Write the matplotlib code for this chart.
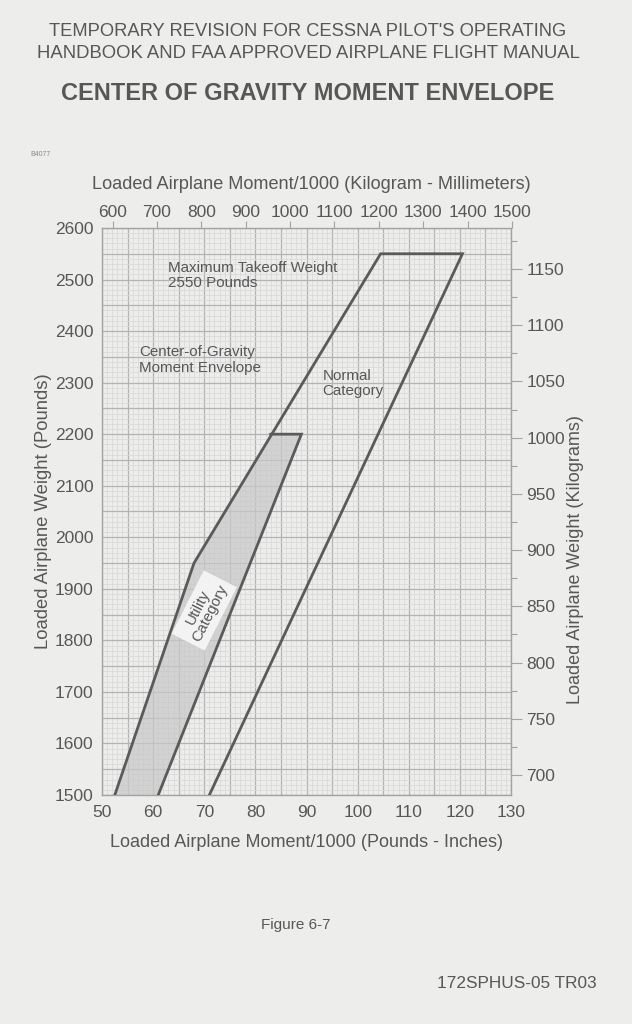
import matplotlib
matplotlib.use("Agg")
import matplotlib.pyplot as plt
from matplotlib.ticker import FixedLocator, NullLocator
import numpy as np

plt.rcParams['font.family'] = ['Liberation Sans', 'DejaVu Sans']

# ---------------- data ----------------
# Normal category envelope (moment/1000 lb-in, weight lb)
normal_moment = [52.5, 68.0, 104.5, 120.5, 71.0]
normal_weight = [1500, 1950, 2550, 2550, 1500]
# Utility category envelope
utility_moment = [52.5, 68.0, 83.0, 89.0, 61.0]
utility_weight = [1500, 1950, 2200, 2200, 1500]

x_ticks = [50, 60, 70, 80, 90, 100, 110, 120, 130]
y_ticks = [1500, 1600, 1700, 1800, 1900, 2000, 2100, 2200, 2300, 2400, 2500, 2600]
kg_ticks = [700, 750, 800, 850, 900, 950, 1000, 1050, 1100, 1150]
kgmm_ticks = [600, 700, 800, 900, 1000, 1100, 1200, 1300, 1400, 1500]

KGMM_PER_LBIN = 0.45359237 * 25.4

# ---------------- style ----------------
paper = '#ededec'
txt = '#575757'
line_c = '#5a5a5a'
spine_c = '#a3a3a3'

W, H = 632, 1024
L, R, B, T = 102, 511, 795, 228

fig = plt.figure(figsize=(W/100, H/100), dpi=100, facecolor=paper)
rect = [L/W, 1 - B/H, (R-L)/W, (B-T)/H]
ax = fig.add_axes(rect)
ax.set_facecolor(paper)

ax.set_xlim(50, 130)
ax.set_ylim(1500, 2600)

# grid
ax.xaxis.set_major_locator(FixedLocator(x_ticks))
ax.yaxis.set_major_locator(FixedLocator(y_ticks))
for v in np.arange(50, 131, 1):
    major = (v % 5 == 0)
    ax.axvline(v, color='#b3b3b3' if major else '#d9d9d9', lw=0.9 if major else 0.55, zorder=0.5)
for v in np.arange(1500, 2601, 10):
    major = (v % 50 == 0)
    ax.axhline(v, color='#b3b3b3' if major else '#d9d9d9', lw=0.9 if major else 0.55, zorder=0.5)

for s in ax.spines.values():
    s.set_color(spine_c)
    s.set_linewidth(1.0)

ax.tick_params(axis='both', which='both', length=0, colors=txt, labelsize=12.5)
ax.tick_params(axis='x', pad=7.5)
ax.tick_params(axis='y', pad=6)

# utility fill
ax.fill(utility_moment, utility_weight, color='#c8c8c8', alpha=0.72, lw=0, zorder=1)
# outlines
ax.plot(normal_moment, normal_weight, color=line_c, lw=2.0, zorder=3, solid_joinstyle='miter')
ax.plot(utility_moment[2:], utility_weight[2:], color=line_c, lw=2.0, zorder=3, solid_joinstyle='miter')

# labels inside
ax.text(62.9, 2507, 'Maximum Takeoff Weight\n2550 Pounds', fontsize=10.9, color=txt,
        ha='left', va='center', linespacing=1.1, zorder=4)
ax.text(57.3, 2344, 'Center-of-Gravity\nMoment Envelope', fontsize=10.9, color=txt,
        ha='left', va='center', linespacing=1.1, zorder=4)
ax.text(93.1, 2299, 'Normal\nCategory', fontsize=10.9, color=txt,
        ha='left', va='center', linespacing=1.1, zorder=4)
ax.text(70.0, 1858, 'Utility\nCategory', fontsize=11, color=txt, rotation=63,
        ha='center', va='center', linespacing=1.0, zorder=4, rotation_mode='anchor',
        bbox=dict(boxstyle='square,pad=0.3', fc='#f3f3f3', ec='none'))

ax.set_xlabel('Loaded Airplane Moment/1000 (Pounds - Inches)', fontsize=13, color=txt, labelpad=10)
ax.set_ylabel('Loaded Airplane Weight (Pounds)', fontsize=13.3, color=txt, labelpad=2)

# right kilogram scale (separate axes on same rectangle)
axr = fig.add_axes(rect, frameon=False)
axr.patch.set_visible(False)
axr.set_xlim(0, 1)
axr.set_ylim(682.2, 1186.5)
axr.xaxis.set_major_locator(NullLocator())
axr.yaxis.tick_right()
axr.yaxis.set_major_locator(FixedLocator(kg_ticks))
axr.yaxis.set_minor_locator(FixedLocator(np.arange(700, 1186, 25)))
axr.tick_params(axis='y', which='major', length=8, width=0.8, color=spine_c, labelcolor=txt,
                labelsize=12.5, pad=3)
axr.tick_params(axis='y', which='minor', length=4, width=0.8, color=spine_c)

# top kg-mm scale (separate axes slightly wider so 1500 fits)
extra = 10
axt = fig.add_axes([L/W, 1 - B/H, (R-L+extra)/W, (B-T)/H], frameon=False)
axt.patch.set_visible(False)
axt.set_xlim(50 * KGMM_PER_LBIN, (50 + (R - L + extra) / ((R - L) / 80)) * KGMM_PER_LBIN)
axt.set_ylim(0, 1)
axt.yaxis.set_major_locator(NullLocator())
axt.xaxis.tick_top()
axt.xaxis.set_label_position('top')
axt.xaxis.set_major_locator(FixedLocator(kgmm_ticks))
axt.tick_params(axis='x', length=5, width=0.8, color=spine_c, labelcolor=txt, labelsize=12.5,
                pad=0.5, direction='out')
axt.set_xlabel('Loaded Airplane Moment/1000 (Kilogram - Millimeters)', fontsize=13.1, color=txt, labelpad=12)

fig.text(575/W, 1 - 560/H, 'Loaded Airplane Weight (Kilograms)', rotation=90, ha='center', va='center',
         fontsize=13, color=txt)

# header / footer texts
fig.text(308/W, 1 - 32/H, "TEMPORARY REVISION FOR CESSNA PILOT'S OPERATING", ha='center', va='center',
         fontsize=13.2, color=txt)
fig.text(308/W, 1 - 53/H, "HANDBOOK AND FAA APPROVED AIRPLANE FLIGHT MANUAL", ha='center', va='center',
         fontsize=13.3, color=txt)
fig.text(308/W, 1 - 94/H, "CENTER OF GRAVITY MOMENT ENVELOPE", ha='center', va='center',
         fontsize=17, color=txt, fontweight='bold')
fig.text(30/W, 1 - 155/H, "B4077", ha='left', va='center', fontsize=5, color='#8a8a8a')
fig.text(296/W, 1 - 925/H, "Figure 6-7", ha='center', va='center', fontsize=11, color=txt)
fig.text(597/W, 1 - 983/H, "172SPHUS-05 TR03", ha='right', va='center', fontsize=12.4, color=txt)

fig.savefig('out.png', dpi=100, facecolor=paper)
